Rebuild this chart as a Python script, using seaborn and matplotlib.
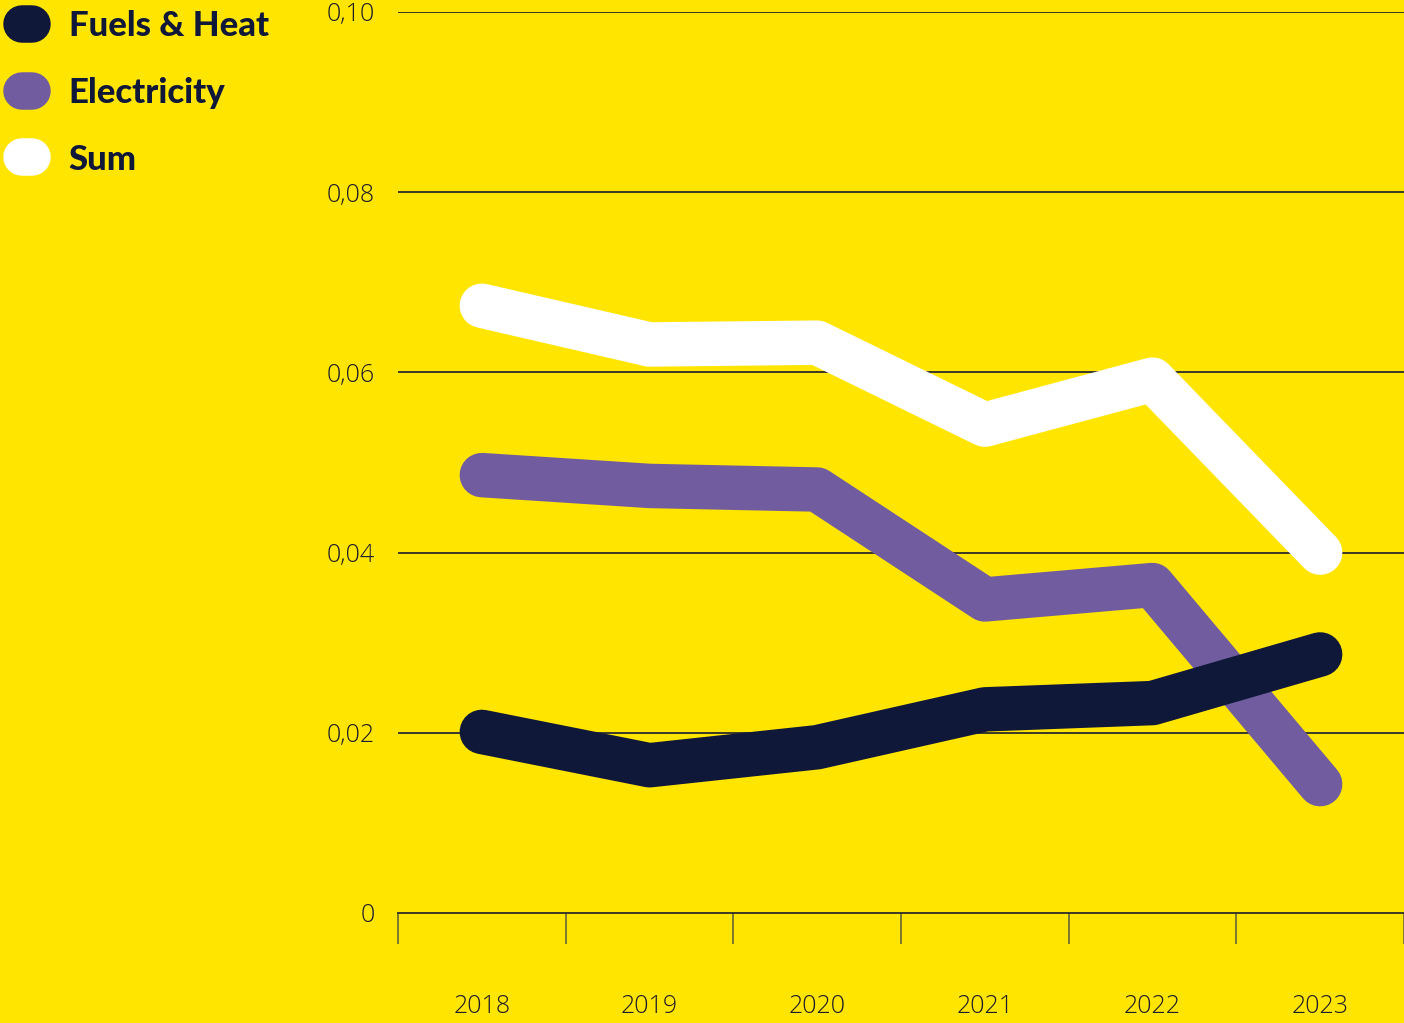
import pandas as pd
import matplotlib
matplotlib.use("Agg")
import matplotlib.pyplot as plt
from matplotlib.lines import Line2D
import seaborn as sns

# data
years = ["2018", "2019", "2020", "2021", "2022", "2023"]
fuels_heat = [0.0201, 0.0164, 0.0184, 0.0226, 0.0233, 0.0287]
electricity = [0.0486, 0.0474, 0.0470, 0.0348, 0.0364, 0.0143]
total_sum = [0.0674, 0.0631, 0.0633, 0.0542, 0.0592, 0.0400]
series_names = ["Fuels & Heat", "Electricity", "Sum"]
y_ticks = [0, 0.02, 0.04, 0.06, 0.08, 0.10]
y_labels = ["0", "0,02", "0,04", "0,06", "0,08", "0,10"]

YELLOW = "#FFE500"
NAVY = "#0F1839"
PURPLE = "#715C9F"
WHITE = "#FFFFFF"
palette = {"Fuels & Heat": NAVY, "Electricity": PURPLE, "Sum": WHITE}

df = pd.DataFrame({
    "pos": list(range(len(years))) * 3,
    "value": fuels_heat + electricity + total_sum,
    "series": [s for s in series_names for _ in years],
})

sns.set_theme(style="white")
plt.rcParams["font.family"] = ["Lato", "DejaVu Sans"]

fig = plt.figure(figsize=(14.04, 10.23), dpi=100, facecolor=YELLOW)
ax = fig.add_axes([398 / 1404, 1 - 913 / 1023, 1 - 398 / 1404, (913 - 12) / 1023])
ax.set_facecolor(YELLOW)

# gridlines first so the thick lines sit on top
for yv in y_ticks[1:]:
    ax.axhline(yv, color="#2b2b2b", lw=1.3, zorder=1)

sns.lineplot(data=df, x="pos", y="value", hue="series", palette=palette,
             hue_order=["Sum", "Electricity", "Fuels & Heat"],
             lw=32, ax=ax, legend=False, zorder=3)
for ln in ax.lines[-3:]:
    ln.set_solid_capstyle("round")
    ln.set_solid_joinstyle("round")
    ln.set_clip_on(False)

ax.set_xlim(-0.5, len(years) - 0.5)
ax.set_ylim(0, 0.10)
ax.set_xlabel("")
ax.set_ylabel("")

for side in ["top", "right", "left"]:
    ax.spines[side].set_visible(False)
ax.spines["bottom"].set_color("#2b2b2b")
ax.spines["bottom"].set_linewidth(1.3)
ax.spines["bottom"].set_zorder(1)

tick_font = {"family": ["Open Sans", "DejaVu Sans"], "weight": "light", "size": 18}

ax.set_yticks(y_ticks)
ax.set_yticklabels(y_labels, fontdict=tick_font, color="#1c1c2e")
ax.tick_params(axis="y", length=0, pad=17)

ax.set_xticks(range(len(years)))
ax.set_xticklabels(years, fontdict=tick_font, color="#1c1c2e")
ax.set_xticks([i - 0.5 for i in range(len(years) + 1)], minor=True)
ax.tick_params(axis="x", which="major", length=0, pad=58)
ax.tick_params(axis="x", which="minor", bottom=True, length=22, width=1.1,
               color="#5a5a3a", direction="out")

handles = [Line2D([0], [0], color=palette[s], lw=27, solid_capstyle="round")
           for s in series_names]
leg = fig.legend(handles, series_names, loc="upper left",
                 bbox_to_anchor=(5 / 1404, 1.007), frameon=False,
                 prop={"weight": "black", "size": 25},
                 handlelength=0.28, handletextpad=1.05, labelspacing=1.0,
                 borderaxespad=0, borderpad=0.5)
for t in leg.get_texts():
    t.set_color(NAVY)

fig.savefig("out.png", dpi=100, facecolor=YELLOW)
